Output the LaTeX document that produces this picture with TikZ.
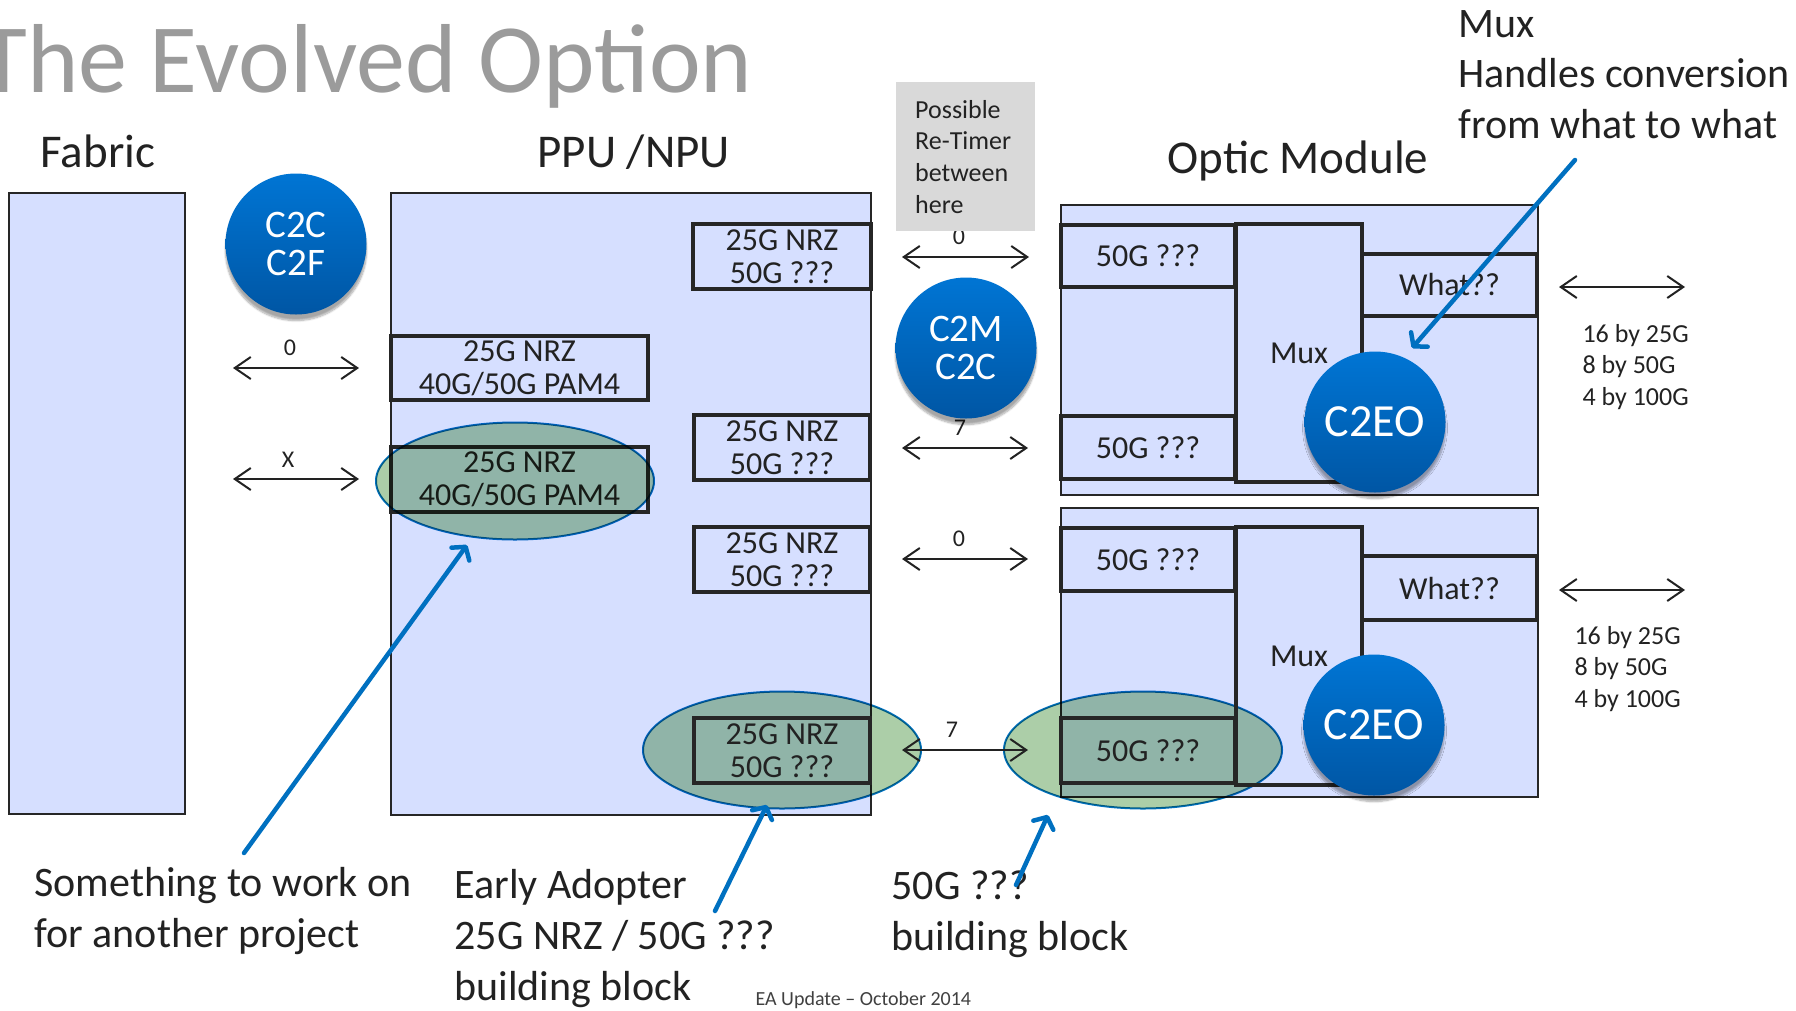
\documentclass[tikz,border=0pt]{standalone}
\usepackage{fontspec}
\setmainfont{Carlito}
\usetikzlibrary{arrows.meta,shapes.geometric,shadows.blur,fit}

\definecolor{panel}{RGB}{214,223,255}
\definecolor{edge}{RGB}{38,38,38}
\definecolor{ink}{RGB}{34,34,34}
\definecolor{discTop}{RGB}{0,117,212}
\definecolor{discBot}{RGB}{0,86,164}
\definecolor{hiGreen}{RGB}{172,206,168}
\definecolor{callout}{RGB}{0,112,192}
\definecolor{noteGray}{RGB}{217,217,217}
\definecolor{titleGray}{RGB}{155,155,155}
\definecolor{footGray}{RGB}{64,64,64}

\newcommand\sizept[2]{\fontsize{#1}{#2}\selectfont}

\begin{document}
\begin{tikzpicture}[x=1pt, y=-1pt,
  outer/.style={draw=edge, line width=2.5pt, fill=panel, inner sep=0pt},
  inner/.style={draw=edge, line width=4pt, inner sep=0pt, align=center,
    text=ink, font=\sizept{32}{33}},
  disc/.style={circle, inner sep=0pt, minimum size=141pt,
    top color=discTop, bottom color=discBot, text=white, align=center,
    blur shadow={shadow xshift=0pt, shadow yshift=-6pt,
      shadow opacity=35, shadow blur steps=8}},
  hilite/.style={ellipse, draw=callout, line width=2pt, fill=hiGreen,
    blend mode=multiply, minimum width=278pt, minimum height=117pt, inner sep=0pt},
  twoway/.style={{Straight Barb[length=16pt,width=22pt]}-{Straight Barb[length=16pt,width=22pt]},
    line width=2pt, draw=ink},
  pointer/.style={-{Straight Barb[length=9pt,width=22pt,round]}, line width=4.5pt,
    line cap=round, draw=callout},
  tag/.style={anchor=base, text=ink, font=\sizept{24}{24}},
  heading/.style={anchor=base west, text=ink, font=\sizept{47}{47}},
  remark/.style={anchor=base west, align=left, text=ink, font=\sizept{42}{51}},
  rates/.style={anchor=base west, align=left, text=ink, font=\sizept{26}{31.5}},
]
\useasboundingbox (0,0) rectangle (1796,1010);

% titles
\node[anchor=base east, text=titleGray, font=\sizept{98}{98}] (title) at (756,92) {The Evolved Option};
\node[heading] (hfabric) at (37,167) {Fabric};
\node[heading] (hppu) at (534,167) {PPU /NPU};
\node[heading] (hoptic) at (1164,173) {Optic Module};

% outer blocks
\node[outer, fit={(9,193) (185,814)}] (fabric) {};
\node[outer, fit={(391,193) (871,815)}] (ppu) {};
\node[outer, fit={(1061,205) (1538,495)}] (om1) {};
\node[outer, fit={(1061,508) (1538,797)}] (om2) {};

% highlighted building blocks (under the boxes)
\node[hilite] (hl2) at (782,750) {};
\node[hilite] (hl3) at (1143,750) {};

% PPU / NPU serdes blocks
\node[inner, minimum width=178pt, minimum height=65pt] (pa) at (782,256.5) {25G NRZ\\50G ???};
\node[inner, minimum width=257pt, minimum height=64pt] (pb1) at (519.5,368) {25G NRZ\\40G/50G PAM4};
\node[inner, minimum width=257pt, minimum height=65pt] (pb2) at (519.5,479.5) {25G NRZ\\40G/50G PAM4};
\node[inner, minimum width=176pt, minimum height=65pt] (pc) at (782,447.5) {25G NRZ\\50G ???};
\node[inner, minimum width=176pt, minimum height=65pt] (pd) at (782,559.5) {25G NRZ\\50G ???};
\node[inner, minimum width=176pt, minimum height=65pt] (pe) at (782,750.5) {25G NRZ\\50G ???};

% optic module 1
\node[inner, minimum width=126pt, minimum height=258pt] (mux1) at (1299,353) {Mux};
\node[inner, minimum width=174pt, minimum height=62pt] (oa1) at (1148,256) {50G ???};
\node[inner, minimum width=174pt, minimum height=63pt] (ob1) at (1148,447.5) {50G ???};
\node[inner, minimum width=175pt, minimum height=62pt] (what1) at (1449.5,285) {What??};

% optic module 2
\node[inner, minimum width=126pt, minimum height=258pt] (mux2) at (1299,656) {Mux};
\node[inner, minimum width=174pt, minimum height=63pt] (oa2) at (1148,559.5) {50G ???};
\node[inner, minimum width=174pt, minimum height=65pt] (ob2) at (1148,750.5) {50G ???};
\node[inner, minimum width=175pt, minimum height=64pt] (what2) at (1449.5,588) {What??};

% highlight over the left PAM4 block
\node[hilite] (hl1) at (515,481) {};

% lane counts
\node[tag] (n0a) at (290,355) {0};
\node[tag] (nxa) at (288,467) {X};
\node[tag] (n0b) at (959,244) {0};
\node[tag] (n7a) at (960,435) {7};
\node[tag] (n0c) at (959,546) {0};
\node[tag] (n7b) at (952,737) {7};

% interface classes
\node[disc, font=\sizept{39}{38}] (c2c) at (296,244) {C2C\\C2F};
\node[disc, font=\sizept{39}{38}] (c2m) at (966,348) {C2M\\C2C};
\node[disc, font=\sizept{46}{46}] (eo1) at (1375,422) {C2EO};
\node[disc, font=\sizept{46}{46}] (eo2) at (1374,725) {C2EO};

% re-timer note
\node[fill=noteGray, anchor=north west, text width=101pt, inner xsep=19pt,
  inner ysep=0pt, minimum height=149pt, align=left, text=ink,
  font=\sizept{26}{31.7}] (retimer) at (896,82) {Possible\\Re-Timer\\between\\here};

% links
\coordinate (f1) at (233,368); \coordinate (p1) at (359,368);
\coordinate (f2) at (233,479); \coordinate (p2) at (359,479);
\coordinate (q1) at (902,257); \coordinate (m1) at (1029,257);
\coordinate (q2) at (902,448); \coordinate (m2) at (1028,448);
\coordinate (q3) at (902,559); \coordinate (m3) at (1028,559);
\coordinate (q4) at (902,750); \coordinate (m4) at (1028,750);
\coordinate (r1) at (1559,287); \coordinate (s1) at (1685,287);
\coordinate (r2) at (1559,590); \coordinate (s2) at (1685,590);
\draw[twoway] (f1) -- (p1);
\draw[twoway] (f2) -- (p2);
\draw[twoway] (q1) -- (m1);
\draw[twoway] (q2) -- (m2);
\draw[twoway] (q3) -- (m3);
\draw[twoway] (q4) -- (m4);
\draw[twoway] (r1) -- (s1);
\draw[twoway] (r2) -- (s2);

% line rates (anchored at the last baseline)
\node[rates] (rate1) at (1579,405) {16 by 25G\\8 by 50G\\4 by 100G};
\node[rates] (rate2) at (1571,707) {16 by 25G\\8 by 50G\\4 by 100G};

% remarks (anchored at the last baseline)
\node[anchor=base west, align=left, text=ink, font=\sizept{42}{50.5}] (muxnote) at (1455,138)
  {Mux\\Handles conversion\\from what to what};
\node[remark] (other) at (31,947) {Something to work on\\for another project};
\node[remark] (early) at (451,1000) {Early Adopter\\25G NRZ / 50G ???\\building block};
\node[remark] (block) at (888,950) {50G ???\\building block};
\node[anchor=base west, text=footGray, font=\sizept{20}{20}] (foot) at (752,1005)
  {EA Update -- October 2014};

% pointers
\coordinate (t1) at (244,853); \coordinate (h1) at (467,545);
\coordinate (t2) at (715,911); \coordinate (h2) at (767,805);
\coordinate (t3) at (1016,885); \coordinate (h3) at (1048,815);
\coordinate (t4) at (1575,160); \coordinate (h4) at (1412,348);
\draw[pointer] (t1) -- (h1);
\draw[pointer] (t2) -- (h2);
\draw[pointer] (t3) -- (h3);
\draw[pointer] (t4) -- (h4);
\end{tikzpicture}
\end{document}
